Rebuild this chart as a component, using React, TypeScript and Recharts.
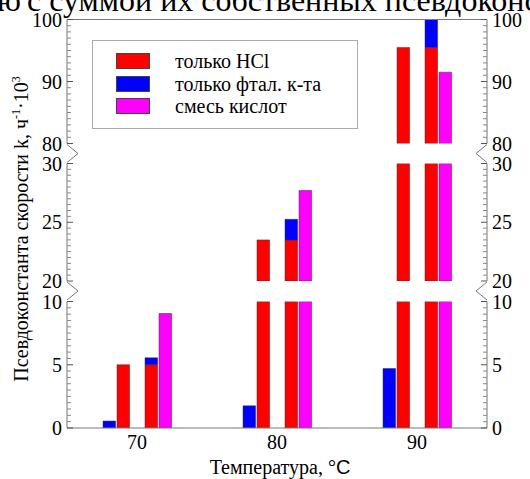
import React from 'react';
import { BarChart, Bar, XAxis, YAxis, Legend, ReferenceLine } from 'recharts';

// temperatures and the pseudo-constants k (ч^-1 · 10^3)
const temps = [70, 80, 90];
const hclOnly = [5.0, 23.5, 95.5];
const ftalOnly = [0.55, 1.75, 4.7];
const mixture = [9.05, 27.7, 91.5];

const seriesNames = ['только HCl', 'только фтал. к-та', 'смесь кислот'];
const seriesColors = ['#ff0000', '#0000ff', '#ff00ff'];

const lowTicks = [0, 5, 10];
const midTicks = [20, 25, 30];
const topTicks = [80, 90, 100];

const W = 530;
const H = 479;
const FONT = '"Liberation Serif", "Times New Roman", serif';
const AXIS = '#777';

// each temperature gets: phthalic only, HCl only, gap, HCl + phthalic stacked, mixture
const rows = temps.flatMap((t, i) => [
  { x: t - 2, ftal: ftalOnly[i] },
  { x: t - 1, hcl: hclOnly[i] },
  { x: t + 1, hcl: hclOnly[i], ftal: ftalOnly[i] },
  { x: t + 2, mix: mixture[i] },
]);

const panels = [
  { key: 'top', domain: [80, 100], major: topTicks, step: 1, top: 19.5, bottom: 143.5, breakAt: 80 },
  { key: 'mid', domain: [20, 30], major: midTicks, step: 0.5, top: 163.5, bottom: 281, breakAt: 20 },
  { key: 'low', domain: [0, 10], major: lowTicks, step: 0.5, top: 301.5, bottom: 428, breakAt: null },
];

const GAP = 20;

const tickList = (d: number[], step: number) => {
  const n = Math.round((d[1] - d[0]) / step);
  const out: number[] = [];
  for (let k = 0; k <= n; k++) out.push(d[0] + k * step);
  return out;
};

const AxisTick = (props: any) => {
  const { x, y, payload, side, major, breakAt } = props;
  const v = payload.value;
  const isMajor = major.includes(v);
  const dir = side === 'left' ? 1 : -1;
  const len = isMajor ? 6 : 4;
  return (
    <g>
      <line x1={x} y1={y} x2={x + dir * len} y2={y} stroke={isMajor ? '#555' : '#888'} strokeWidth={1} />
      {isMajor && (
        <text
          x={x - dir * 5}
          y={y}
          dy="0.35em"
          textAnchor={side === 'left' ? 'end' : 'start'}
          fontSize={20}
          fontFamily={FONT}
          fill="#000"
        >
          {v}
        </text>
      )}
      {v === breakAt && (
        <polyline
          points={`${x},${y + 1} ${x + dir * 11},${y + GAP / 2} ${x},${y + GAP - 1}`}
          fill="none"
          stroke={AXIS}
          strokeWidth={1}
        />
      )}
    </g>
  );
};

const LegendBox = () => (
  <div
    style={{
      width: 264,
      height: 78,
      border: '1px solid #aaa',
      background: '#fff',
      paddingTop: 9,
      boxSizing: 'content-box',
      fontFamily: FONT,
      fontSize: 20,
      color: '#000',
    }}
  >
    {seriesNames.map((name, i) => (
      <div key={name} style={{ display: 'flex', alignItems: 'center', height: 22.5 }}>
        <span
          style={{
            width: 34,
            height: 16,
            background: seriesColors[i],
            border: '1px solid #444',
            boxSizing: 'border-box',
            marginLeft: 23,
            marginRight: 25,
          }}
        />
        <span style={{ lineHeight: '22px' }}>{name}</span>
      </div>
    ))}
  </div>
);

const Panel = ({ p, isBottom }: { p: any; isBottom: boolean }) => {
  const ticks = tickList(p.domain, p.step);
  return (
    <div style={{ position: 'absolute', left: 0, top: 0 }}>
      <BarChart
        width={W}
        height={H}
        data={rows}
        barSize={14}
        margin={{ top: p.top, bottom: isBottom ? 0 : H - p.bottom, left: 0, right: 0 }}
      >
        <XAxis
          dataKey="x"
          type="number"
          domain={[65, 95]}
          allowDataOverflow
          hide={!isBottom}
          height={H - p.bottom}
          ticks={temps}
          interval={0}
          tickLine={false}
          tickSize={0}
          tickMargin={7}
          axisLine={{ stroke: AXIS }}
          tick={{ fontSize: 20, fill: '#000', fontFamily: FONT }}
        />
        <YAxis
          yAxisId="left"
          domain={p.domain}
          allowDataOverflow
          ticks={ticks}
          interval={0}
          width={67}
          tickSize={0}
          tickMargin={0}
          tickLine={false}
          axisLine={{ stroke: AXIS }}
          tick={(t: any) => <AxisTick {...t} side="left" major={p.major} breakAt={p.breakAt} />}
        />
        <YAxis
          yAxisId="right"
          orientation="right"
          domain={p.domain}
          allowDataOverflow
          ticks={ticks}
          interval={0}
          width={43}
          tickSize={0}
          tickMargin={0}
          tickLine={false}
          axisLine={{ stroke: AXIS }}
          tick={(t: any) => <AxisTick {...t} side="right" major={p.major} breakAt={p.breakAt} />}
        />
        {p.key === 'top' && <ReferenceLine yAxisId="left" y={100} stroke={AXIS} />}
        <Bar yAxisId="left" dataKey="hcl" stackId="s" name={seriesNames[0]} fill={seriesColors[0]} stroke="#333" strokeWidth={0.5} isAnimationActive={false} />
        <Bar yAxisId="left" dataKey="ftal" stackId="s" name={seriesNames[1]} fill={seriesColors[1]} stroke="#333" strokeWidth={0.5} isAnimationActive={false} />
        <Bar yAxisId="left" dataKey="mix" stackId="s" name={seriesNames[2]} fill={seriesColors[2]} stroke="#333" strokeWidth={0.5} isAnimationActive={false} />
        {p.key === 'top' && (
          <Legend
            layout="horizontal"
            align="center"
            verticalAlign="middle"
            wrapperStyle={{ left: 92, top: 40, width: 266, height: 89 }}
            content={() => <LegendBox />}
          />
        )}
      </BarChart>
    </div>
  );
};

export default function App() {
  const plotCx = (67 + 487) / 2;
  return (
    <div style={{ position: 'absolute', left: 0, top: 0, width: W, height: H, background: '#fff', overflow: 'hidden', fontFamily: FONT }}>
      <svg width={W} height={H} style={{ position: 'absolute', left: 0, top: 0 }}>
        <text y={11} fontSize={32} fontFamily={FONT} fill="#000">
          <tspan x={21} textAnchor="end">сравнимую</tspan>
          <tspan x={27}>с суммой их собственных псевдоконстант</tspan>
        </text>
        <text
          transform="translate(28, 229) rotate(-90)"
          textAnchor="middle"
          fontSize={20}
          fontFamily={FONT}
          fill="#000"
        >
          Псевдоконстанта скорости k, ч
          <tspan fontSize={12} dy={-8}>-1</tspan>
          <tspan dy={8}>·10</tspan>
          <tspan fontSize={12} dy={-8}>3</tspan>
        </text>
        <text x={plotCx + 3} y={474} textAnchor="middle" fontSize={20} fontFamily={FONT} fill="#000">
          Температура, °<tspan fontFamily='"Liberation Sans", Arial, sans-serif'>C</tspan>
        </text>
      </svg>
      {panels.map((p, i) => (
        <Panel key={p.key} p={p} isBottom={i === panels.length - 1} />
      ))}
    </div>
  );
}
